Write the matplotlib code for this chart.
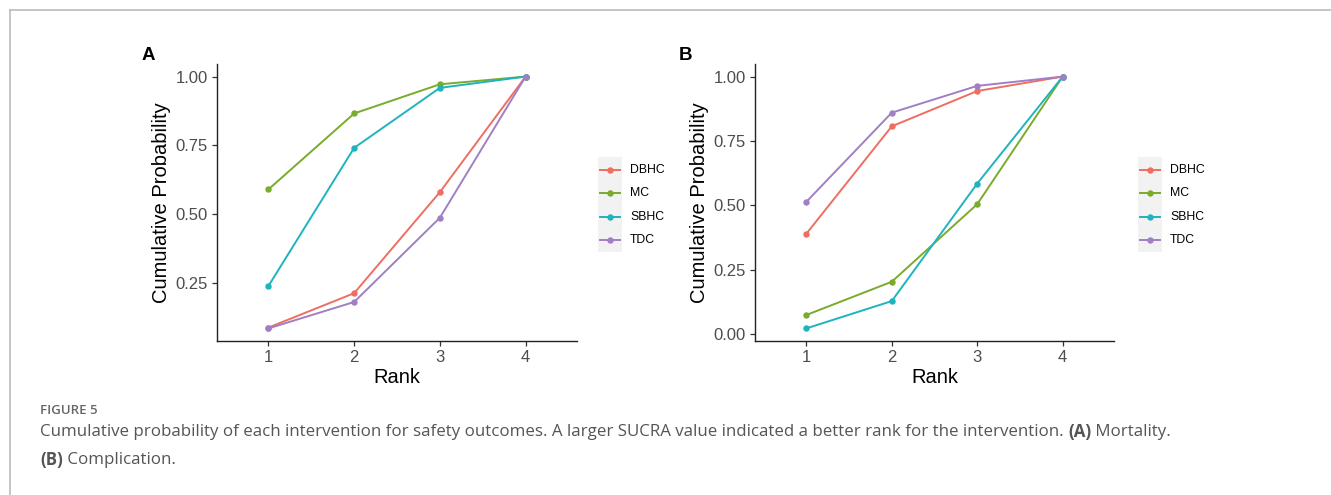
import matplotlib
matplotlib.use("Agg")
import matplotlib.pyplot as plt
from matplotlib.patches import Rectangle
from matplotlib.lines import Line2D

plt.rcParams['font.family'] = ['Liberation Sans', 'DejaVu Sans']

ranks = [1, 2, 3, 4]
treatments = ['DBHC', 'MC', 'SBHC', 'TDC']
colors = ['#EE6E62', '#7AAB2B', '#1EB4BE', '#A07FC4']

# panel A: mortality
mort_dbhc = [0.088, 0.213, 0.580, 1.0]
mort_mc = [0.590, 0.866, 0.972, 1.0]
mort_sbhc = [0.239, 0.741, 0.959, 1.0]
mort_tdc = [0.085, 0.181, 0.487, 1.0]

# panel B: complication
comp_dbhc = [0.390, 0.807, 0.944, 1.0]
comp_mc = [0.075, 0.204, 0.505, 1.0]
comp_sbhc = [0.023, 0.129, 0.585, 1.0]
comp_tdc = [0.514, 0.860, 0.964, 1.0]

yticks_a = [0.25, 0.50, 0.75, 1.00]
yticks_b = [0.00, 0.25, 0.50, 0.75, 1.00]

W, H = 1331, 495
fig = plt.figure(figsize=(W / 100, H / 100), dpi=100)


def fx(px):
    return px / W


def fy(py):
    return 1 - py / H


def draw_panel(left, right, series, yticks, letter, leg_left):
    ax = fig.add_axes([fx(left), fy(341), fx(right - left), (341 - 64) / H])
    for vals, c in zip(series, colors):
        ax.plot(ranks, vals, color=c, lw=1.4, marker='o', ms=3.6, zorder=3)
    allv = [v for s in series for v in s]
    lo, hi = min(allv), max(allv)
    pad = (hi - lo) * 0.05
    ax.set_ylim(lo - pad, hi + pad)
    ax.set_xlim(0.4, 4.6)
    ax.set_xticks(ranks)
    ax.set_yticks(yticks)
    ax.set_yticklabels(['%.2f' % t for t in yticks])
    for s in ['top', 'right']:
        ax.spines[s].set_visible(False)
    for s in ['left', 'bottom']:
        ax.spines[s].set_color('#222222')
        ax.spines[s].set_linewidth(1.0)
    ax.tick_params(colors='#333333', labelcolor='#4D4D4D', labelsize=12,
                   length=3.5, width=0.9, pad=3)
    ax.set_xlabel('Rank', fontsize=14.5, labelpad=2)
    ax.set_ylabel('Cumulative Probability', fontsize=14.5, labelpad=3)
    fig.text(fx(left - 69), fy(55), letter, fontsize=13.5, fontweight='bold',
             ha='center', va='center')

    # legend with grey key background
    lax = fig.add_axes([fx(leg_left), fy(252), fx(90), 95 / H])
    lax.set_xlim(0, 90)
    lax.set_ylim(95, 0)
    lax.axis('off')
    lax.add_patch(Rectangle((0, 0), 24, 95, facecolor='#F2F2F2', edgecolor='none'))
    for i, (name, c) in enumerate(zip(treatments, colors)):
        yc = 13 + 23.3 * i
        lax.add_line(Line2D([2, 22], [yc, yc], color=c, lw=1.4))
        lax.plot([12], [yc], marker='o', ms=3.6, color=c)
        lax.text(32, yc, name, fontsize=8.8, va='center', ha='left', color='black')
    return ax


draw_panel(217, 577, [mort_dbhc, mort_mc, mort_sbhc, mort_tdc], yticks_a, 'A', 598)
draw_panel(755, 1114, [comp_dbhc, comp_mc, comp_sbhc, comp_tdc], yticks_b, 'B', 1138)

# card border (top and left)
fig.add_artist(Line2D([fx(10), 1], [fy(10), fy(10)], color='#BBBBBB', lw=1.2))
fig.add_artist(Line2D([fx(10), fx(10)], [fy(10), 0], color='#BBBBBB', lw=1.2))

# caption
cap_font = ['Open Sans', 'DejaVu Sans']
fig.text(fx(40), fy(410), 'FIGURE 5', fontsize=9.5, fontweight='semibold',
         color='#666666', family=cap_font, va='center')

renderer = fig.canvas.get_renderer()


def draw_runs(x, y, runs):
    for txt, weight in runs:
        t = fig.text(x, y, txt, fontsize=12.2, fontweight=weight, color='#555555',
                     family=cap_font, va='center', ha='left')
        bb = t.get_window_extent(renderer)
        x += bb.width / W


draw_runs(fx(40), fy(432), [
    ('Cumulative probability of each intervention for safety outcomes. '
     'A larger SUCRA value indicated a better rank for the intervention. ', 'normal'),
    ('(A)', 'bold'), (' Mortality.', 'normal')])
draw_runs(fx(40), fy(460), [('(B)', 'bold'), (' Complication.', 'normal')])

fig.savefig('out.png', dpi=100, facecolor='white')
